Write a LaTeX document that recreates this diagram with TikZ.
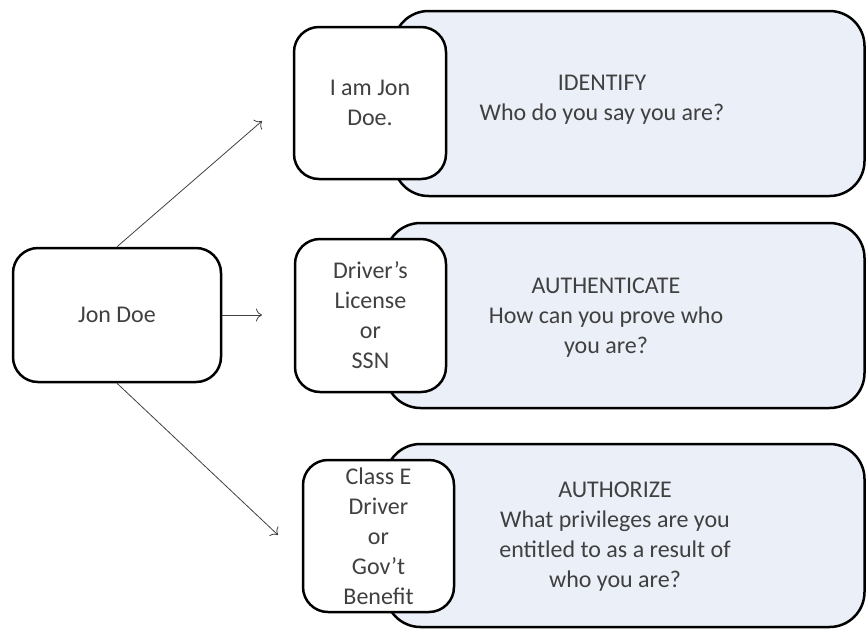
\documentclass[tikz,border=0pt]{standalone}
\usepackage{fontspec}
\setmainfont{Carlito}
\usepackage{tikz}
\usetikzlibrary{arrows.meta}
\usepackage{xcolor}
\definecolor{panelblue}{RGB}{235,240,248}
\definecolor{textgray}{RGB}{64,64,64}

\begin{document}
\begin{tikzpicture}[x=1pt,y=-1pt,
  every node/.style={text=textgray, font=\fontsize{24}{30}\selectfont, align=center, inner sep=0pt},
  panel/.style={draw=black, line width=2.5pt, fill=panelblue, rounded corners=35pt},
  card/.style={draw=black, line width=2.5pt, fill=white, rounded corners=25pt},
  link/.style={draw=textgray, line width=0.8pt, -{To[length=6pt,width=13pt]}}]
\useasboundingbox (0,0) rectangle (867,630);

\node [card, minimum width=208, minimum height=134] (jondoe) at (117,315) {Jon Doe};

\node [panel, minimum width=471, minimum height=185] (identify) at (629,103.5) {};
\node [card, minimum width=152, minimum height=152] (claim) at (370,103) {I am Jon\\Doe.};
\node (identifytext) at (602,100) {IDENTIFY\\Who do you say you are?};

\node [panel, minimum width=479, minimum height=185] (authenticate) at (625,315.5) {};
\node [card, minimum width=151, minimum height=153] (proof) at (370.5,315.5) {Driver's\\License\\or\\SSN};
\node (authenticatetext) at (606,318) {AUTHENTICATE\\How can you prove who\\you are?};

\node [panel, minimum width=479, minimum height=183] (authorize) at (625,535.5) {};
\node [card, minimum width=151, minimum height=152] (privilege) at (378.5,536) {Class E\\Driver\\or\\Gov't\\Benefit};
\node (authorizetext) at (615,537) {AUTHORIZE\\What privileges are you\\entitled to as a result of\\who you are?};

\coordinate (uptip) at (262,121);
\coordinate (midtip) at (262,315);
\coordinate (downtip) at (278,535);
\draw [link] (jondoe.north) -- (uptip);
\draw [link] (jondoe.east) -- (midtip);
\draw [link] (jondoe.south) -- (downtip);
\end{tikzpicture}
\end{document}
